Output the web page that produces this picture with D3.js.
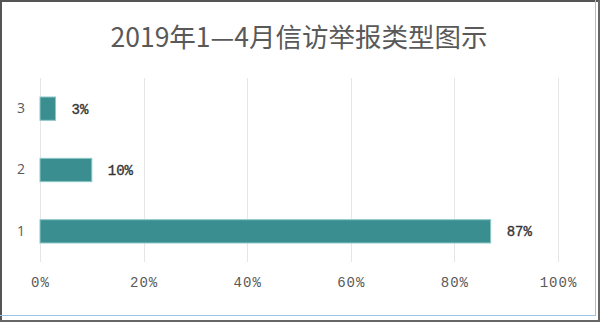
<!DOCTYPE html>
<html>
<head>
<meta charset="utf-8">
<script src="https://cdn.jsdelivr.net/npm/d3@7"></script>
<style>
  html, body { margin: 0; padding: 0; background: #fff; }
  svg { display: block; }
</style>
</head>
<body>
<svg id="chart" width="600" height="322"></svg>
<script>
// Complaint/report type shares, Jan–Apr 2019
const categories = ["1", "2", "3"];
const values = [87, 10, 3];
const valueLabels = ["87%", "10%", "3%"];
const xTicks = [0, 20, 40, 60, 80, 100];
const title = "2019年1—4月信访举报类型图示";

const W = 600, H = 322;
const svg = d3.select("#chart");

// frame
svg.append("rect").attr("x", 0).attr("y", 0).attr("width", W).attr("height", H).attr("fill", "#fff");
svg.append("line").attr("x1", 0).attr("x2", W).attr("y1", 1).attr("y2", 1).attr("stroke", "#555").attr("stroke-width", 2);
svg.append("line").attr("x1", 1).attr("x2", 1).attr("y1", 0).attr("y2", H).attr("stroke", "#555").attr("stroke-width", 2);
svg.append("line").attr("x1", 599).attr("x2", 599).attr("y1", 0).attr("y2", H).attr("stroke", "#666").attr("stroke-width", 2);
svg.append("line").attr("x1", 0).attr("x2", W).attr("y1", 321).attr("y2", 321).attr("stroke", "#666").attr("stroke-width", 2);
svg.append("line").attr("x1", 595.5).attr("x2", 595.5).attr("y1", 0).attr("y2", 316).attr("stroke", "#9cc3e6").attr("stroke-width", 1);
svg.append("line").attr("x1", 0).attr("x2", 596).attr("y1", 315.5).attr("y2", 315.5).attr("stroke", "#9cc3e6").attr("stroke-width", 1);

svg.append("text")
  .attr("x", 299).attr("y", 47)
  .attr("text-anchor", "middle")
  .attr("font-family", "'Noto Sans CJK SC', sans-serif")
  .attr("font-size", 26.5)
  .attr("fill", "#595959")
  .text(title);

const plot = { left: 40, right: 558, top: 78, bottom: 262 };

const x = d3.scaleLinear().domain([0, 100]).range([plot.left, plot.right]);
const y = d3.scaleBand().domain(["3", "2", "1"]).range([plot.top, plot.bottom]).paddingInner(0.62).paddingOuter(0.31);

// vertical gridlines
svg.append("g").selectAll("line").data(xTicks).join("line")
  .attr("x1", d => Math.round(x(d)) + 0.5).attr("x2", d => Math.round(x(d)) + 0.5)
  .attr("y1", plot.top).attr("y2", plot.bottom)
  .attr("stroke", "#e6e6e6").attr("stroke-width", 1);

// x axis labels
const xAxis = d3.axisBottom(x).tickValues(xTicks).tickFormat(d => d + "%").tickSize(0).tickPadding(0);
const gx = svg.append("g").attr("transform", `translate(0, ${plot.bottom + 15})`).call(xAxis);
gx.select(".domain").remove();
gx.selectAll("text")
  .attr("font-family", "'Liberation Mono', monospace")
  .attr("font-size", 14)
  .attr("letter-spacing", 1)
  .attr("fill", "#595959");

// y axis labels
const yAxis = d3.axisLeft(y).tickSize(0).tickPadding(0);
const gy = svg.append("g").attr("transform", "translate(25,0)").call(yAxis);
gy.select(".domain").remove();
gy.selectAll("text")
  .attr("font-family", "'Open Sans', sans-serif")
  .attr("font-size", 14)
  .attr("fill", "#595959");

// bars
svg.append("g").selectAll("rect").data(categories).join("rect")
  .attr("x", x(0))
  .attr("y", (d) => y(d))
  .attr("width", (d, i) => x(values[i]) - x(0))
  .attr("height", y.bandwidth())
  .attr("fill", "#3b8e90")
  .attr("stroke", "#8cc7c8")
  .attr("stroke-width", 1);

// value labels
svg.append("g").selectAll("text").data(categories).join("text")
  .attr("x", (d, i) => x(values[i]) + 16)
  .attr("y", d => y(d) + y.bandwidth() / 2)
  .attr("dy", "0.35em")
  .attr("font-family", "'Liberation Mono', monospace")
  .attr("font-size", 14)
  .attr("fill", "#333")
  .attr("stroke", "#333")
  .attr("stroke-width", 0.35)
  .text((d, i) => valueLabels[i]);
</script>
</body>
</html>
